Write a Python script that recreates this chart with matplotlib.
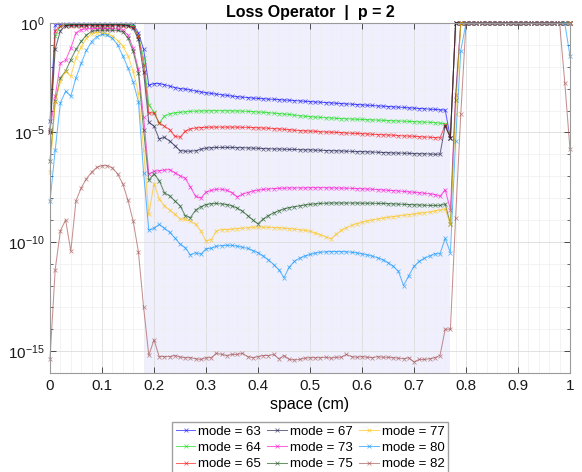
import matplotlib
matplotlib.use('Agg')
import matplotlib.pyplot as plt
import numpy as np
from matplotlib.ticker import FixedLocator, MultipleLocator, NullFormatter

plt.rcParams['font.family'] = ['Liberation Sans', 'DejaVu Sans']
plt.rcParams['mathtext.default'] = 'regular'

# space grid (cm), one sample every 0.01
x = np.arange(101) / 100
modes = [63, 64, 65, 67, 73, 75, 77, 80, 82]
pml_region = (0.18, 0.77)

# log10 of the loss (rows of 10 samples)
loss63 = [-4.5, -0.1, -0.05, -0.05, -0.05, -0.05, -0.05, -0.05, -0.05, -0.05,
          -0.05, -0.05, -0.05, -0.05, -0.05, -0.05, -0.05, -0.45, -1.2, -2.85,
          -2.77, -2.77, -2.82, -2.89, -2.95, -3.0, -3.02, -3.06, -3.11, -3.15,
          -3.19, -3.22, -3.25, -3.28, -3.31, -3.34, -3.37, -3.39, -3.41, -3.43,
          -3.45, -3.46, -3.48, -3.49, -3.5, -3.52, -3.53, -3.55, -3.56, -3.58,
          -3.59, -3.61, -3.62, -3.64, -3.65, -3.67, -3.68, -3.7, -3.71, -3.73,
          -3.74, -3.76, -3.77, -3.79, -3.8, -3.82, -3.83, -3.85, -3.86, -3.88,
          -3.89, -3.91, -3.92, -3.94, -3.95, -3.97, -3.98, -5.25, 0, 0,
          0, 0, 0, 0, 0, 0, 0, 0, 0, 0,
          0, 0, 0, 0, 0, 0, 0, 0, 0, 0,
          0]
loss64 = [-4.9, -0.6, -0.15, -0.08, -0.07, -0.07, -0.07, -0.07, -0.07, -0.07,
          -0.07, -0.07, -0.07, -0.07, -0.07, -0.08, -0.12, -0.6, -1.6, -3.73,
          -4.08, -4.57, -4.26, -4.15, -4.11, -4.08, -4.06, -4.04, -4.03, -4.02,
          -4.02, -4.01, -4.01, -4.01, -4.01, -4.02, -4.02, -4.03, -4.04, -4.05,
          -4.07, -4.08, -4.1, -4.12, -4.14, -4.16, -4.18, -4.21, -4.24, -4.26,
          -4.28, -4.3, -4.31, -4.33, -4.34, -4.36, -4.37, -4.38, -4.39, -4.4,
          -4.41, -4.42, -4.43, -4.44, -4.45, -4.46, -4.47, -4.48, -4.49, -4.5,
          -4.51, -4.52, -4.53, -4.54, -4.55, -4.58, -4.6, -5.25, 0, 0,
          0, 0, 0, 0, 0, 0, 0, 0, 0, 0,
          0, 0, 0, 0, 0, 0, 0, 0, 0, 0,
          0]
loss65 = [-5.0, -0.35, -0.15, -0.12, -0.12, -0.12, -0.12, -0.12, -0.12, -0.12,
          -0.12, -0.12, -0.12, -0.12, -0.12, -0.13, -0.18, -0.6, -1.9, -4.11,
          -4.11, -4.57, -4.72, -4.87, -5.18, -5.22, -4.95, -4.84, -4.8, -4.78,
          -4.77, -4.76, -4.76, -4.76, -4.76, -4.76, -4.76, -4.77, -4.77, -4.78,
          -4.79, -4.8, -4.81, -4.83, -4.84, -4.86, -4.88, -4.9, -4.92, -4.93,
          -4.94, -4.95, -4.97, -4.98, -4.99, -5.0, -5.01, -5.03, -5.04, -5.05,
          -5.06, -5.07, -5.09, -5.1, -5.11, -5.12, -5.13, -5.15, -5.16, -5.17,
          -5.18, -5.2, -5.21, -5.22, -5.24, -5.25, -4.68, -5.25, 0, 0,
          0, 0, 0, 0, 0, 0, 0, 0, 0, 0,
          0, 0, 0, 0, 0, 0, 0, 0, 0, 0,
          0]
loss67 = [-5.0, -1.2, -0.35, -0.12, -0.09, -0.08, -0.08, -0.08, -0.08, -0.08,
          -0.08, -0.08, -0.08, -0.08, -0.09, -0.12, -0.25, -0.75, -2.25, -4.54,
          -4.72, -5.3, -5.22, -5.4, -5.6, -5.83, -5.86, -5.86, -5.84, -5.77,
          -5.72, -5.7, -5.69, -5.69, -5.69, -5.69, -5.7, -5.7, -5.71, -5.72,
          -5.73, -5.74, -5.75, -5.76, -5.76, -5.77, -5.78, -5.78, -5.79, -5.8,
          -5.8, -5.81, -5.82, -5.83, -5.84, -5.84, -5.85, -5.86, -5.87, -5.88,
          -5.88, -5.89, -5.9, -5.91, -5.92, -5.93, -5.94, -5.95, -5.95, -5.96,
          -5.97, -5.98, -5.98, -5.99, -6.0, -6.0, -4.7, -5.25, 0, 0,
          0, 0, 0, 0, 0, 0, 0, 0, 0, 0,
          0, 0, 0, 0, 0, 0, 0, 0, 0, 0,
          0]
loss73 = [-4.9, -3.35, -1.83, -1.7, -1.15, -0.45, -0.3, -0.27, -0.26, -0.26,
          -0.26, -0.26, -0.26, -0.27, -0.33, -0.55, -1.15, -2.1, -4.3, -6.9,
          -6.78, -6.75, -6.72, -6.7, -6.84, -6.98, -7.1, -7.49, -7.93, -8.0,
          -7.73, -7.65, -7.6, -7.6, -7.65, -7.75, -7.95, -7.83, -7.75, -7.68,
          -7.64, -7.61, -7.59, -7.57, -7.56, -7.55, -7.54, -7.54, -7.54, -7.54,
          -7.53, -7.53, -7.53, -7.53, -7.54, -7.54, -7.55, -7.55, -7.56, -7.57,
          -7.58, -7.59, -7.6, -7.62, -7.63, -7.65, -7.66, -7.68, -7.7, -7.72,
          -7.74, -7.76, -7.78, -7.81, -7.84, -7.92, -7.62, -8.53, -3.3, 0,
          0, 0, 0, 0, 0, 0, 0, 0, 0, 0,
          0, 0, 0, 0, 0, 0, 0, 0, 0, 0,
          0]
loss75 = [-6.3, -3.58, -2.51, -2.2, -1.68, -1.2, -0.84, -0.55, -0.38, -0.34,
          -0.33, -0.33, -0.33, -0.34, -0.4, -0.69, -1.3, -2.28, -4.9, -7.19,
          -6.9, -7.2, -7.76, -7.9, -8.13, -8.35, -8.8, -8.9, -8.55, -8.4,
          -8.3, -8.26, -8.25, -8.27, -8.3, -8.36, -8.46, -8.6, -8.8, -9.0,
          -9.18, -8.96, -8.8, -8.68, -8.58, -8.5, -8.44, -8.4, -8.36, -8.32,
          -8.29, -8.27, -8.25, -8.24, -8.23, -8.23, -8.23, -8.23, -8.23, -8.23,
          -8.24, -8.24, -8.24, -8.25, -8.25, -8.26, -8.27, -8.28, -8.29, -8.3,
          -8.31, -8.32, -8.33, -8.34, -8.34, -8.34, -8.27, -9.2, -3.5, 0,
          0, 0, 0, 0, 0, 0, 0, 0, 0, 0,
          0, 0, 0, 0, 0, 0, 0, 0, 0, 0,
          0]
loss77 = [-6.8, -3.6, -2.67, -2.21, -2.44, -1.6, -1.1, -0.7, -0.48, -0.44,
          -0.45, -0.5, -0.6, -0.8, -1.05, -1.5, -2.2, -3.2, -5.8, -8.75,
          -7.34, -8.04, -8.35, -8.55, -8.75, -8.95, -8.98, -9.05, -9.21, -9.5,
          -9.97, -9.9, -9.52, -9.44, -9.44, -9.42, -9.4, -9.38, -9.36, -9.33,
          -9.33, -9.33, -9.34, -9.35, -9.36, -9.38, -9.4, -9.42, -9.45, -9.48,
          -9.52, -9.6, -9.68, -9.77, -9.86, -9.66, -9.48, -9.35, -9.25, -9.17,
          -9.1, -9.05, -9.0, -8.96, -8.92, -8.88, -8.85, -8.82, -8.79, -8.76,
          -8.73, -8.7, -8.67, -8.64, -8.6, -8.55, -8.5, -9.2, -4.15, 0,
          0, 0, 0, 0, 0, 0, 0, 0, 0, 0,
          0, 0, 0, 0, 0, 0, 0, 0, 0, 0,
          0]
loss80 = [-8.15, -5.8, -3.65, -3.12, -3.35, -2.5, -1.85, -1.25, -0.85, -0.62,
          -0.52, -0.55, -0.7, -1.0, -1.5, -2.05, -2.7, -3.6, -6.85, -9.47,
          -9.38, -9.21, -9.38, -9.57, -9.82, -10.1, -10.27, -10.6, -10.5, -10.57,
          -10.32, -10.3, -10.2, -10.18, -10.16, -10.17, -10.2, -10.25, -10.3, -10.4,
          -10.5, -10.65, -10.82, -11.04, -11.27, -11.64, -11.16, -10.9, -10.75, -10.65,
          -10.58, -10.52, -10.48, -10.46, -10.45, -10.45, -10.45, -10.46, -10.48, -10.51,
          -10.55, -10.6, -10.66, -10.73, -10.82, -10.95, -11.12, -11.35, -12.0, -11.55,
          -11.12, -10.9, -10.75, -10.65, -10.55, -10.55, -9.85, -10.5, -5.4, -1.26,
          0, 0, 0, 0, 0, 0, 0, 0, 0, 0,
          0, 0, 0, 0, 0, 0, 0, 0, 0, 0,
          -1.52]
loss82 = [-15.35, -11.27, -9.5, -9.0, -10.43, -8.12, -7.54, -7.12, -6.82, -6.6,
          -6.52, -6.52, -6.62, -6.9, -7.35, -8.11, -9.06, -10.46, -13.0, -15.19,
          -14.48, -15.25, -15.25, -15.25, -15.2, -15.27, -15.3, -15.3, -15.35, -15.38,
          -15.3, -15.3, -15.1, -15.15, -15.2, -15.15, -15.15, -15.1, -15.25, -15.3,
          -15.25, -15.2, -15.2, -15.15, -15.35, -15.2, -15.38, -15.4, -15.38, -15.32,
          -15.3, -15.3, -15.3, -15.28, -15.32, -15.28, -15.28, -15.15, -15.25, -15.28,
          -15.25, -15.28, -15.3, -15.25, -15.28, -15.28, -15.3, -15.32, -15.35, -15.3,
          -15.5, -15.38, -15.38, -15.35, -15.3, -15.2, -14.0, -14.0, -8.9, -4.15,
          0, 0, 0, 0, 0, 0, 0, 0, 0, 0,
          0, 0, 0, 0, 0, 0, 0, 0, 0, -2.74,
          -5.78]

losses = [loss63, loss64, loss65, loss67, loss73, loss75, loss77, loss80, loss82]
colors = ['#0000ff', '#00dd00', '#ff0000', '#101040', '#ff00cc',
          '#0a4a0a', '#ffc000', '#0090ff', '#a04848']

fig = plt.figure(figsize=(5.82, 4.72), dpi=100)
ax = fig.add_axes([50/582, 99/472, 520/582, 350/472])

ax.axvspan(*pml_region, color='#efeffd', lw=0, zorder=0.2)

for m, v, c in zip(modes, losses, colors):
    assert len(v) == len(x)
    ax.semilogy(x, 10.0**np.array(v), '-x', color=c, alpha=0.6, lw=0.75,
                ms=3, mew=0.6, clip_on=False, label=f'mode = {m}')

ax.set_xlim(0, 1)
ax.set_ylim(1e-16, 1)
ax.set_axisbelow(True)

xt = np.arange(11) / 10
ax.xaxis.set_major_locator(FixedLocator(xt))
ax.set_xticklabels(['0'] + [f'{t:.1f}' for t in xt[1:-1]] + ['1'])
ax.xaxis.set_minor_locator(MultipleLocator(0.02))
yt = [1e-15, 1e-10, 1e-5, 1]
ax.yaxis.set_major_locator(FixedLocator(yt))
ax.set_yticklabels(['$10^{-15}$', '$10^{-10}$', '$10^{-5}$', '$10^{0}$'])
ax.yaxis.set_minor_locator(FixedLocator([10.0**k for k in range(-16, 1)]))
ax.yaxis.set_minor_formatter(NullFormatter())

ax.tick_params(which='both', direction='in', top=True, right=True,
               labelsize=11, colors='#333333', labelcolor='#1a1a1a', pad=4)
ax.tick_params(which='major', length=4, width=0.6)
ax.tick_params(axis='y', which='minor', length=2.5, width=0.5)
ax.tick_params(axis='x', which='minor', length=0)
for s in ax.spines.values():
    s.set_color('#9a9a9a')
    s.set_linewidth(0.8)

ax.grid(True, which='major', color='#dcdcdc', lw=0.6)
ax.grid(True, which='minor', color='#efefef', lw=0.5)

ax.set_title('Loss Operator  |  p = 2', fontweight='bold', fontsize=11.5, pad=4)
ax.set_xlabel('space (cm)', fontsize=11.5, labelpad=3)

fig.legend(loc='upper center', bbox_to_anchor=(310/582, 1 - 415/472), ncol=3,
           fontsize=9.5, frameon=True, fancybox=False, edgecolor='#a0a0a0',
           framealpha=1, handlelength=1.5, handletextpad=0.2,
           columnspacing=0.5, labelspacing=0.3, borderpad=0.3)

fig.savefig('out.png', dpi=100)
